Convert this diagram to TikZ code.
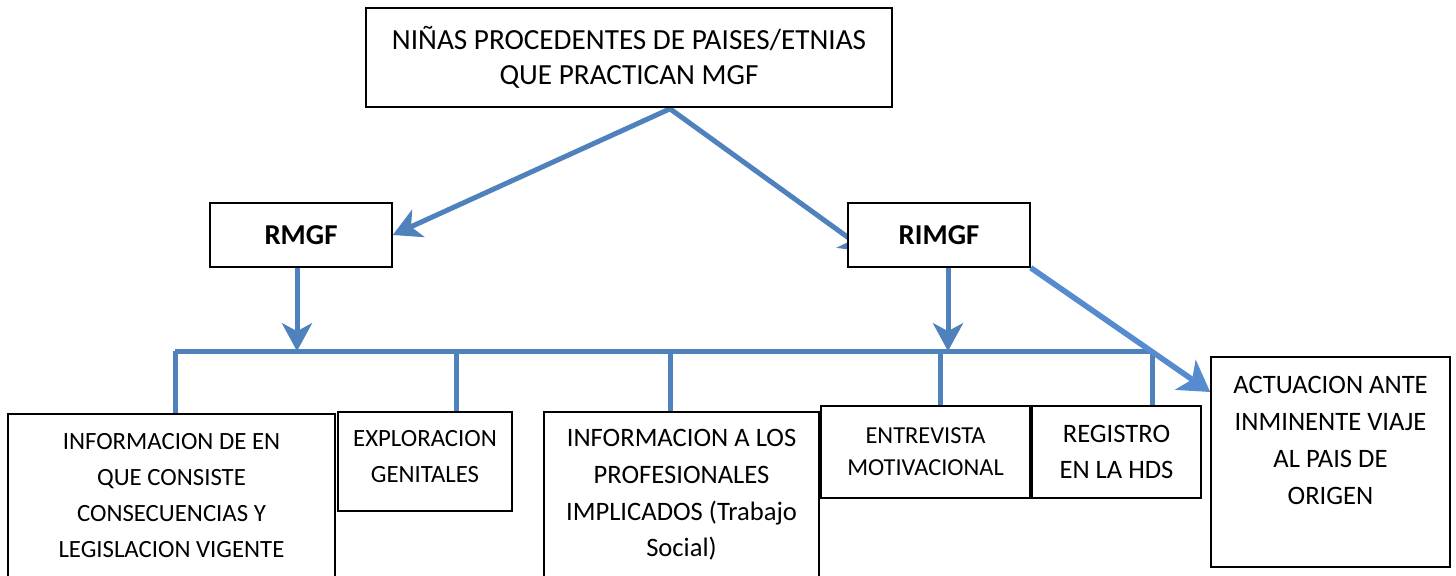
\documentclass[tikz,border=0pt]{standalone}
\usepackage{fontspec}
\setmainfont{Carlito}
\usetikzlibrary{arrows.meta,calc,backgrounds}
\definecolor{flowblue}{HTML}{4F81BD}
\definecolor{flowblue2}{HTML}{568BD0}
\begin{document}
\begin{tikzpicture}[x=0.5pt,y=-0.5pt,
  box/.style={draw=black,line width=0.8pt,fill=white,inner sep=0pt,align=center,
    font=\fontsize{12.4pt}{18pt}\selectfont},
  txt/.style={inner sep=0pt,align=center,font=\fontsize{12.4pt}{18pt}\selectfont},
  conn/.style={draw=flowblue,line width=2.5pt},
  arr/.style={conn,-{Stealth[length=14pt,width=15pt,inset=4pt]}},
  bigarr/.style={conn,draw=flowblue2,line width=2.8pt,-{Stealth[length=15pt,width=18pt,inset=4pt]}}]
\useasboundingbox (0,0) rectangle (1456,575);
% boxes
\node[box,minimum width=263pt,minimum height=49.5pt,font=\fontsize{14.6pt}{17.5pt}\selectfont] (top) at (629,57.5)
  {NIÑAS PROCEDENTES DE PAISES/ETNIAS\\QUE PRACTICAN MGF};
\node[box,minimum width=91pt,minimum height=32pt,font=\fontsize{14.4pt}{18pt}\selectfont\bfseries] (rmgf) at (301,235) {RMGF};
\node[box,minimum width=91pt,minimum height=32pt,font=\fontsize{14.4pt}{18pt}\selectfont\bfseries] (rimgf) at (939,235) {RIMGF};
\node[box,minimum width=163.5pt,minimum height=82pt] (b1) at (171.5,496)
  {INFORMACION DE EN\\QUE CONSISTE\\CONSECUENCIAS Y\\LEGISLACION VIGENTE};
\node[box,minimum width=87pt,minimum height=49.5pt] (b2) at (425,461.5) {};
\node[txt] (b2t) at (425,456.5) {EXPLORACION\\GENITALES};
\node[box,minimum width=137.5pt,minimum height=83pt,font=\fontsize{13.3pt}{18.3pt}\selectfont] (b3) at (681.5,495)
  {INFORMACION A LOS\\PROFESIONALES\\IMPLICADOS (Trabajo\\Social)};
\node[box,minimum width=104.5pt,minimum height=46pt,font=\fontsize{12.2pt}{16pt}\selectfont] (b4) at (925.5,452)
  {ENTREVISTA\\MOTIVACIONAL};
\node[box,minimum width=84.5pt,minimum height=46pt,font=\fontsize{13.3pt}{18pt}\selectfont] (b5) at (1116.5,452)
  {REGISTRO\\EN LA HDS};
\node[box,minimum width=119.5pt,minimum height=105pt] (b6) at (1330.5,462) {};
\node[txt,font=\fontsize{13.3pt}{18.5pt}\selectfont] (b6t) at (1330.5,440)
  {ACTUACION ANTE\\INMINENTE VIAJE\\AL PAIS DE\\ORIGEN};
% coordinates
\coordinate (apex) at ($(top.south)+(41,1)$);
\coordinate (barL) at ($(b1.north)+(3.5,-62)$);
\coordinate (barR) at ($(b5.north)+(36.5,-54)$);
\coordinate (rd) at ($(rmgf.south)+(-4,-4)$);
\coordinate (rid) at ($(rimgf.south)+(9,-4)$);
\coordinate (d2) at ($(b2.north)+(31,0)$);
\coordinate (d3) at ($(b3.north)+(-11.5,0)$);
\coordinate (d4) at ($(b4.north)+(14.5,0)$);
\coordinate (d5) at ($(b5.north)+(35.5,0)$);
\begin{scope}[on background layer]
\draw[arr] (apex) -- (rmgf.east);
\draw[arr] (apex) -- ($(rimgf.west)+(21,17)$);
\draw[arr] (rd) -- (rd |- barL);
\draw[arr] (rid) -- (rid |- barL);
\draw[conn] (barL) -- (barR);
\draw[conn] (barL) -- (b1.north -| barL);
\draw[conn] (d2 |- barL) -- (d2);
\draw[conn] (d3 |- barL) -- (d3);
\draw[conn] (d4 |- barL) -- (d4);
\draw[conn] (d5 |- barL) -- (d5);
\draw[bigarr] (rimgf.south east) -- ($(b6.west)+(0,-70)$);
\end{scope}
\end{tikzpicture}
\end{document}
